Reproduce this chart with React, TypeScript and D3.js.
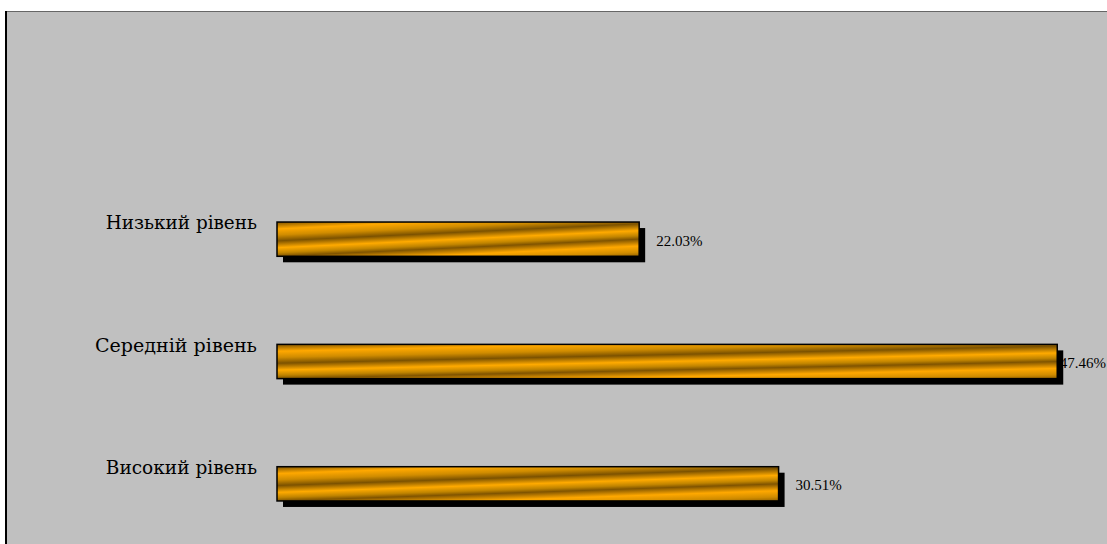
import * as d3 from 'd3';

const categories = ['Низький рівень', 'Середній рівень', 'Високий рівень'];
const values = [22.03, 47.46, 30.51];
const valueLabels = ['22.03%', '47.46%', '30.51%'];
const xDomain = [0, 50];

const W = 1107;
const H = 544;

const goldStops = [
  { o: 0, c: '#805400' },
  { o: 0.2, c: '#ffa800' },
  { o: 0.38, c: '#d08c00' },
  { o: 0.55, c: '#7c5200' },
  { o: 0.75, c: '#ffaa00' },
  { o: 0.9, c: '#c08400' },
  { o: 1, c: '#805400' },
];

export default function App() {
  const x = d3.scaleLinear().domain(xDomain).range([277, 1099]);
  const y = d3.scaleBand<string>().domain(categories).range([178, 545]).paddingInner(0.72).paddingOuter(0.36);
  const bw = y.bandwidth();
  const font = '"DejaVu Serif", "Liberation Serif", serif';

  return (
    <svg width={W} height={H} style={{ position: 'absolute', left: 0, top: 0 }}
      fontFamily={font}>
      <defs>
        <linearGradient id="gold" x1="0" y1="0" x2="0.4" y2="0.8" spreadMethod="repeat">
          {goldStops.map((s, i) => <stop key={i} offset={s.o} stopColor={s.c} />)}
        </linearGradient>
      </defs>
      <rect x={0} y={0} width={W} height={H} fill="#fff" />
      {/* plot area */}
      <rect x={6} y={11} width={W} height={H} fill="#c0c0c0" />
      <line x1={6} x2={W} y1={11.5} y2={11.5} stroke="#666" strokeWidth={1} />
      <line x1={6} x2={6} y1={11} y2={H} stroke="#000" strokeWidth={2} />

      {categories.map((c, i) => {
        const y0 = y(c) ?? 0;
        const x0 = x(0);
        const x1 = x(values[i]);
        const cy = y0 + bw / 2;
        const lx = x1 + 17;
        const overflow = lx + 46 > W;
        return (
          <g key={c}>
            <rect x={x0 + 6} y={y0 + 6} width={x1 - x0} height={bw} fill="#000" />
            <rect x={x0} y={y0} width={x1 - x0} height={bw} fill="url(#gold)" stroke="#000" strokeWidth={1.5} />
            <text x={x0 - 20} y={cy - 10} textAnchor="end" fontSize={19} fill="#000"
              textLength={c.length * 10.8} lengthAdjust="spacingAndGlyphs">{c}</text>
            <text x={overflow ? W - 1 : lx} y={cy + 6.5} textAnchor={overflow ? 'end' : 'start'}
              fontFamily='"Liberation Serif", serif' fontSize={15} fill="#000">{valueLabels[i]}</text>
          </g>
        );
      })}
    </svg>
  );
}
